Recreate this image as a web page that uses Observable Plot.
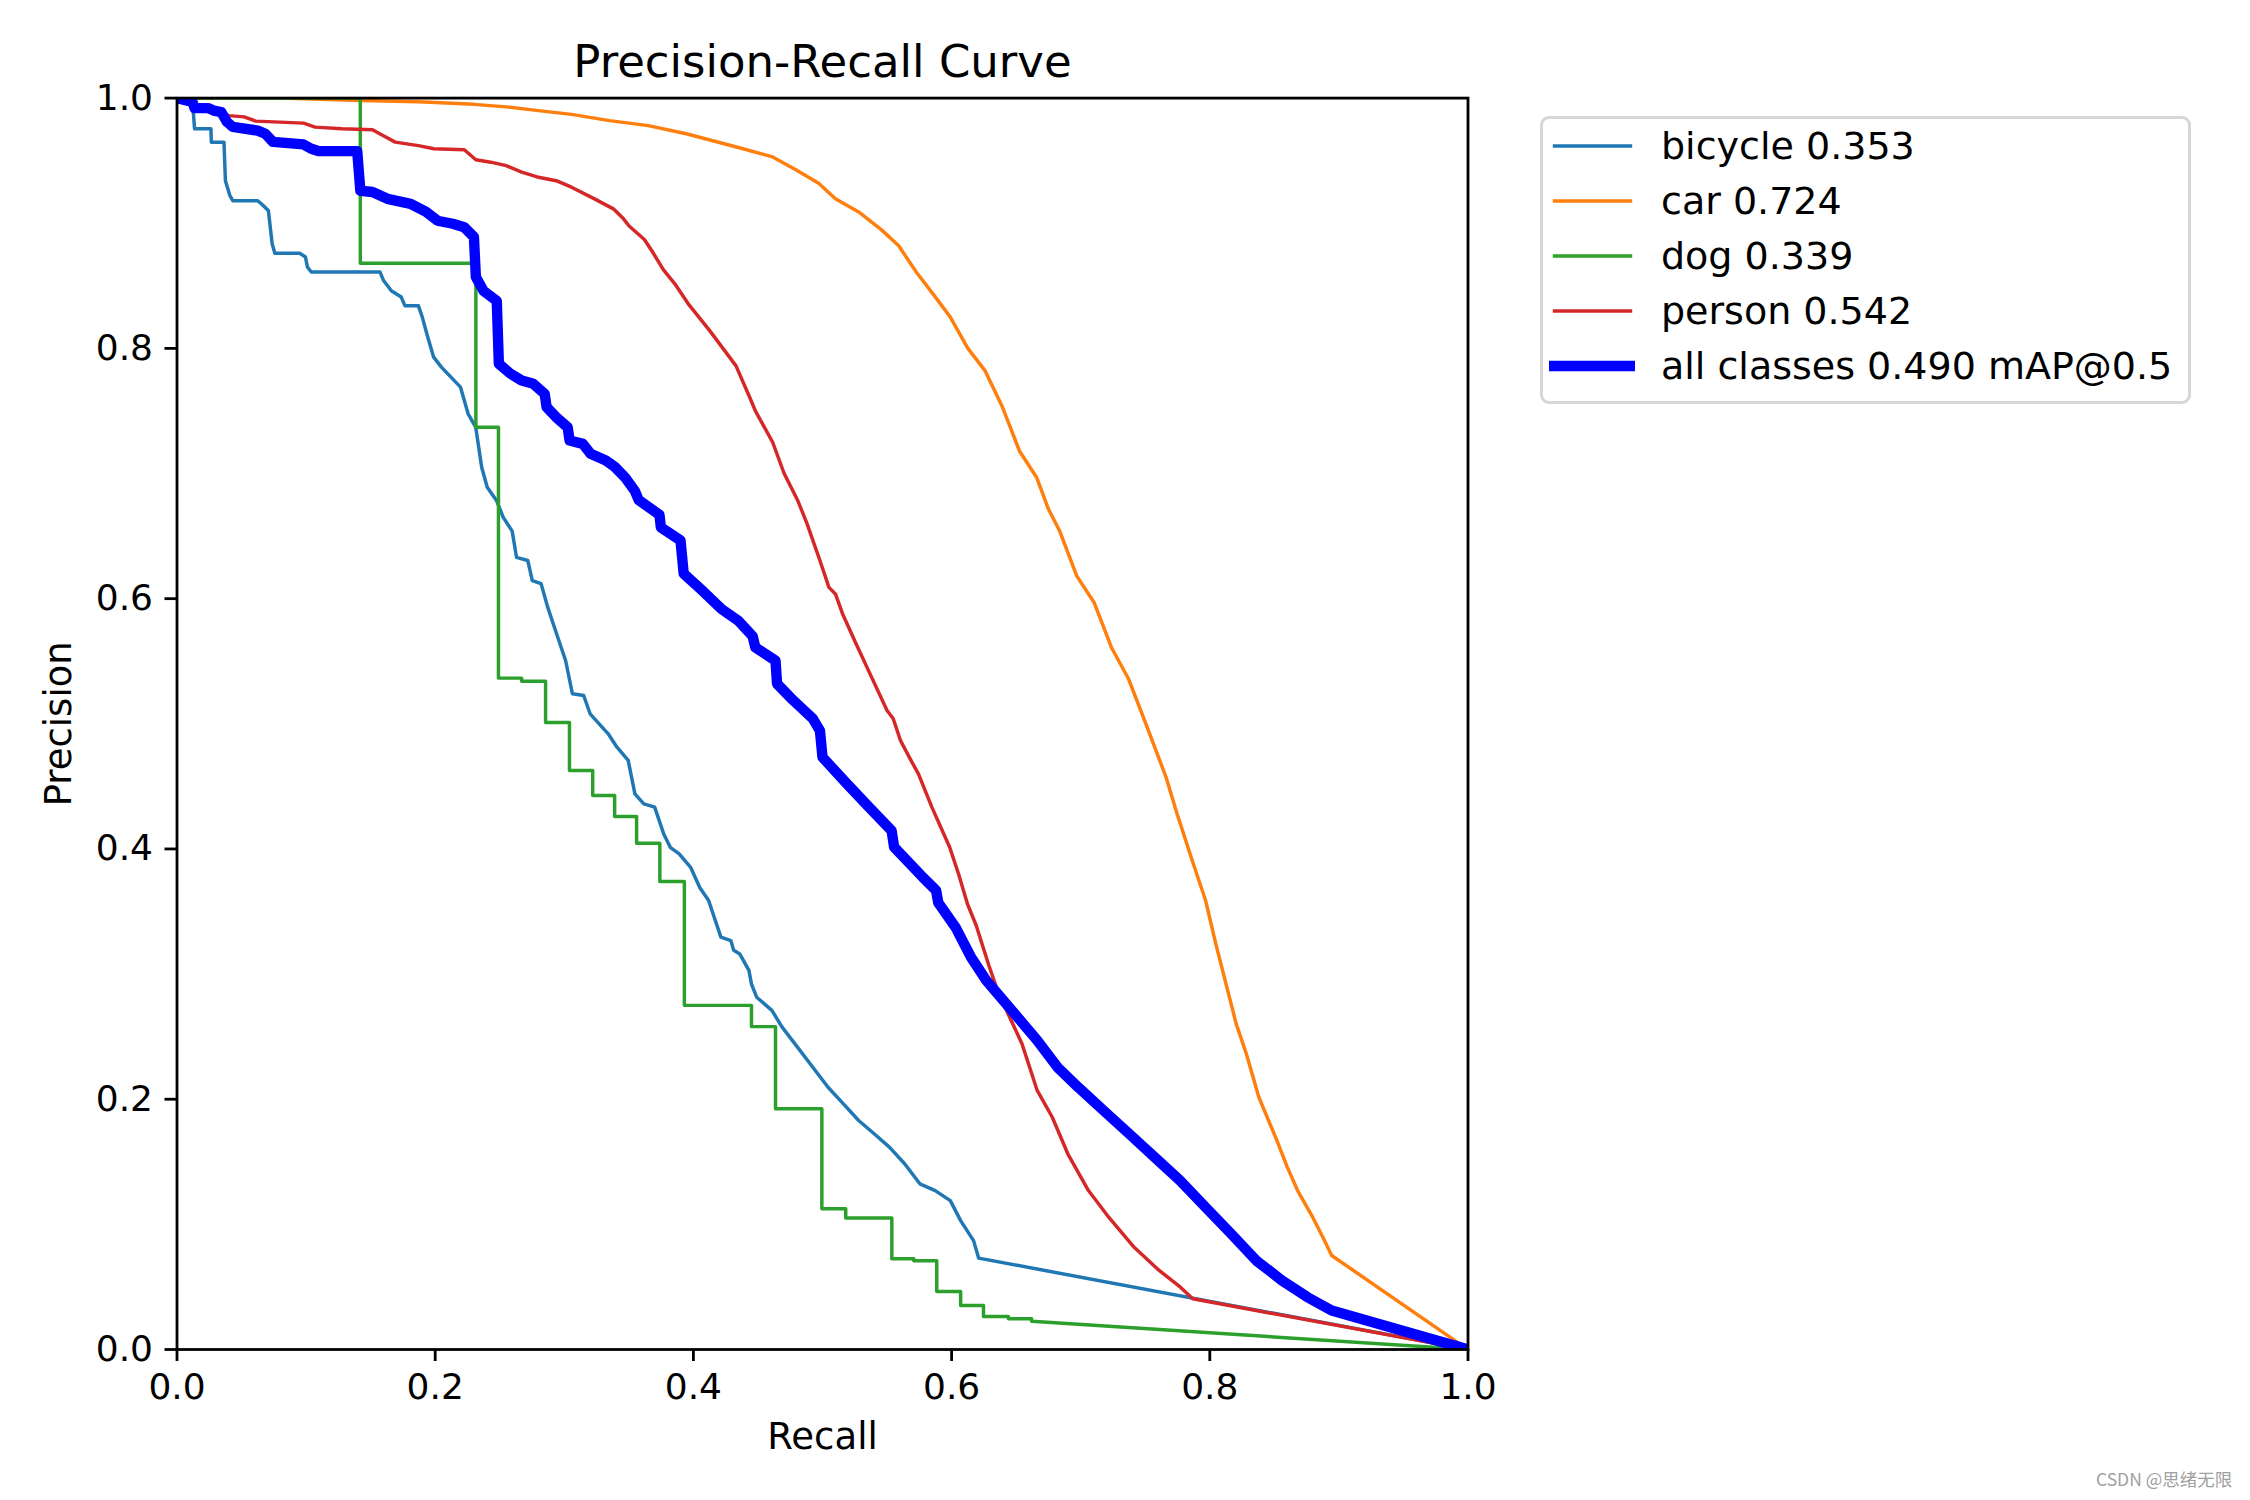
<!DOCTYPE html>
<html>
<head>
<meta charset="utf-8">
<script src="https://cdn.jsdelivr.net/npm/d3@7"></script>
<script src="https://cdn.jsdelivr.net/npm/@observablehq/plot@0.6"></script>
<style>
  html, body { margin: 0; padding: 0; background: #ffffff; }
  #wrap { position: relative; width: 2250px; height: 1500px; font-family: "DejaVu Sans", sans-serif; color: #000; }
  #legend { position: absolute; left: 1540px; top: 116px; width: 651px; height: 288px; box-sizing: border-box;
            border: 3px solid #d6d6d6; border-radius: 9px; background: #fff; }
  .lrow { position: absolute; left: 0; height: 50px; width: 100%; }
  .lrow svg { position: absolute; left: 6px; top: 0; }
  .lrow span { position: absolute; left: 118px; top: 0; line-height: 50px; font-size: 38px; white-space: nowrap; }
  #wm { position: absolute; left: 2096px; top: 1466px; font-size: 17.5px; color: #a0a0a0;
        font-family: "Noto Sans CJK SC", "DejaVu Sans", sans-serif; white-space: nowrap; }
</style>
</head>
<body>
<div id="wrap">
  <div id="chart"></div>
  <div id="legend"></div>
  <div id="wm">CSDN @思绪无限</div>
</div>
<script>
// ---------------- data ----------------
const classNames = ["bicycle", "car", "dog", "person"];
const apValues = [0.353, 0.724, 0.339, 0.542];
const mAP50 = 0.490;
const xTicks = [0, 0.2, 0.4, 0.6, 0.8, 1.0];
const yTicks = [0, 0.2, 0.4, 0.6, 0.8, 1.0];
const tickLabels = ["0.0", "0.2", "0.4", "0.6", "0.8", "1.0"];
const titleText = "Precision-Recall Curve";
const xLabel = "Recall";
const yLabel = "Precision";

// [recall, precision]
const bicycle = [[0,1],[0.012,0.998],[0.0136,0.9755],[0.0263,0.9755],[0.0266,0.9648],[0.0364,0.9648],[0.0375,0.934],[0.041,0.922],[0.0432,0.918],[0.0625,0.918],[0.067,0.914],[0.0708,0.910],[0.0737,0.8836],[0.0758,0.876],[0.095,0.876],[0.0995,0.873],[0.101,0.865],[0.104,0.861],[0.1573,0.861],[0.160,0.8542],[0.166,0.846],[0.1737,0.841],[0.1766,0.834],[0.187,0.834],[0.19,0.825],[0.1935,0.8117],[0.1988,0.793],[0.2048,0.785],[0.2122,0.777],[0.2196,0.769],[0.2255,0.7477],[0.2314,0.737],[0.236,0.705],[0.2403,0.689],[0.2477,0.678],[0.2527,0.665],[0.2596,0.654],[0.263,0.633],[0.2717,0.6305],[0.2752,0.6145],[0.282,0.612],[0.2872,0.593],[0.2924,0.577],[0.2976,0.561],[0.301,0.5506],[0.3063,0.524],[0.315,0.5226],[0.320,0.508],[0.327,0.500],[0.334,0.492],[0.3408,0.4813],[0.3495,0.4707],[0.3547,0.444],[0.3616,0.436],[0.370,0.4334],[0.377,0.412],[0.3823,0.401],[0.389,0.396],[0.398,0.385],[0.405,0.369],[0.4117,0.359],[0.4213,0.3295],[0.429,0.3268],[0.4312,0.319],[0.436,0.316],[0.443,0.303],[0.445,0.292],[0.449,0.2815],[0.4608,0.271],[0.4687,0.2576],[0.4806,0.2416],[0.4944,0.223],[0.5043,0.2096],[0.5162,0.1963],[0.528,0.183],[0.540,0.1724],[0.5518,0.1617],[0.5636,0.1484],[0.5754,0.1324],[0.5873,0.127],[0.599,0.119],[0.607,0.103],[0.617,0.087],[0.621,0.073],[1,0]];

const car = [[0,1],[0.08,1],[0.142,0.998],[0.187,0.997],[0.23,0.995],[0.255,0.993],[0.28,0.99],[0.3056,0.987],[0.335,0.982],[0.365,0.978],[0.3945,0.9715],[0.4348,0.9605],[0.4614,0.953],[0.479,0.943],[0.497,0.932],[0.510,0.9195],[0.528,0.909],[0.546,0.8945],[0.559,0.882],[0.5726,0.861],[0.586,0.843],[0.599,0.825],[0.6126,0.800],[0.626,0.782],[0.639,0.754],[0.6526,0.718],[0.666,0.6966],[0.675,0.6716],[0.6838,0.6538],[0.697,0.618],[0.7105,0.5967],[0.7238,0.561],[0.737,0.536],[0.7505,0.500],[0.766,0.4576],[0.7747,0.428],[0.786,0.392],[0.7967,0.359],[0.8047,0.324],[0.8126,0.292],[0.8205,0.260],[0.8284,0.236],[0.838,0.2016],[0.852,0.167],[0.860,0.1457],[0.868,0.127],[0.8797,0.1057],[0.8876,0.0897],[0.8944,0.0751],[1,0]];

const dog = [[0,1],[0.142,1],[0.142,0.868],[0.2315,0.868],[0.2315,0.737],[0.249,0.737],[0.249,0.5365],[0.267,0.5365],[0.267,0.534],[0.2855,0.534],[0.2855,0.501],[0.304,0.501],[0.304,0.4627],[0.322,0.4627],[0.322,0.4427],[0.339,0.4427],[0.339,0.426],[0.356,0.426],[0.356,0.4046],[0.374,0.4046],[0.374,0.374],[0.393,0.374],[0.393,0.275],[0.445,0.275],[0.445,0.258],[0.4636,0.258],[0.4636,0.1923],[0.4995,0.1923],[0.4995,0.1124],[0.518,0.1124],[0.518,0.105],[0.5537,0.105],[0.5537,0.0725],[0.5707,0.0725],[0.5707,0.071],[0.5885,0.071],[0.5885,0.0463],[0.607,0.0463],[0.607,0.0352],[0.6247,0.0352],[0.6247,0.0264],[0.644,0.0264],[0.644,0.0245],[0.662,0.0245],[0.662,0.0226],[1,0]];

const person = [[0,1],[0.02,0.99],[0.0403,0.986],[0.052,0.985],[0.061,0.9816],[0.098,0.980],[0.107,0.9768],[0.1277,0.9755],[0.1514,0.9747],[0.157,0.9715],[0.169,0.9648],[0.187,0.962],[0.199,0.9595],[0.2225,0.9587],[0.2315,0.9507],[0.243,0.9488],[0.255,0.946],[0.267,0.9408],[0.279,0.937],[0.2937,0.934],[0.3056,0.9288],[0.3234,0.9195],[0.338,0.9115],[0.3459,0.9035],[0.350,0.898],[0.362,0.887],[0.3678,0.878],[0.3767,0.863],[0.3856,0.8516],[0.396,0.8356],[0.412,0.815],[0.42,0.804],[0.433,0.786],[0.444,0.760],[0.448,0.750],[0.4614,0.725],[0.4703,0.700],[0.481,0.678],[0.488,0.660],[0.498,0.6305],[0.505,0.609],[0.510,0.6038],[0.5155,0.588],[0.526,0.564],[0.537,0.5395],[0.550,0.5106],[0.5548,0.504],[0.5604,0.4867],[0.568,0.4718],[0.5743,0.460],[0.5847,0.4334],[0.5985,0.4014],[0.6054,0.380],[0.6123,0.356],[0.619,0.339],[0.629,0.3065],[0.6365,0.284],[0.6425,0.271],[0.6545,0.2443],[0.6663,0.207],[0.678,0.1856],[0.690,0.1564],[0.706,0.127],[0.7217,0.1057],[0.7414,0.0817],[0.761,0.063],[0.777,0.050],[0.7868,0.0405],[1,0]];

const allClasses = [[0,1],[0.012,0.997],[0.0136,0.992],[0.024,0.992],[0.0284,0.990],[0.0343,0.9888],[0.0387,0.981],[0.0432,0.977],[0.0625,0.974],[0.0684,0.9715],[0.0743,0.965],[0.098,0.963],[0.104,0.9595],[0.11,0.9576],[0.1396,0.9576],[0.142,0.926],[0.1514,0.925],[0.163,0.9195],[0.181,0.9155],[0.193,0.909],[0.2018,0.902],[0.2136,0.8996],[0.2225,0.8968],[0.230,0.889],[0.2315,0.857],[0.2374,0.846],[0.2477,0.838],[0.2493,0.7877],[0.258,0.780],[0.267,0.7743],[0.276,0.7717],[0.2848,0.7637],[0.2863,0.753],[0.2937,0.745],[0.3026,0.737],[0.3041,0.7264],[0.3144,0.7237],[0.3204,0.7158],[0.3322,0.7104],[0.339,0.7054],[0.347,0.697],[0.3547,0.686],[0.3576,0.6788],[0.3737,0.667],[0.3748,0.657],[0.390,0.6466],[0.3925,0.620],[0.408,0.6054],[0.422,0.5915],[0.4348,0.5824],[0.4459,0.570],[0.448,0.561],[0.4636,0.5505],[0.4648,0.532],[0.4775,0.5186],[0.4926,0.504],[0.498,0.4946],[0.5,0.4733],[0.519,0.452],[0.536,0.4334],[0.5535,0.4147],[0.5555,0.4014],[0.5777,0.3774],[0.588,0.3668],[0.5897,0.357],[0.603,0.3375],[0.615,0.3135],[0.6268,0.2949],[0.6466,0.271],[0.6663,0.247],[0.682,0.2256],[0.698,0.2096],[0.7177,0.191],[0.7375,0.1724],[0.7572,0.1537],[0.777,0.135],[0.7967,0.1137],[0.8165,0.0925],[0.836,0.0711],[0.856,0.0551],[0.8757,0.0418],[0.8944,0.0312],[1,0]];

// ---------------- styles ----------------
const classColors = ["#1f77b4", "#ff7f0e", "#2ca02c", "#d62728"];
const allColor = "#0000ff";
const thinW = 3.47, thickW = 10.4;

// ---------------- build table ----------------
const classSeries = [bicycle, car, dog, person];
const rows = [];
classSeries.forEach((s, i) => s.forEach(([r, p]) => rows.push({series: classNames[i], recall: r, precision: p})));
const allRows = allClasses.map(([r, p]) => ({series: "all classes", recall: r, precision: p}));
const fmtTick = d => tickLabels[xTicks.findIndex(t => Math.abs(t - d) < 1e-9)];

const W = 2250, H = 1500;
const mL = 176.5, mR = 2250 - 1467.5, mT = 97.6, mB = 1500 - 1349;

const chart = Plot.plot({
  width: W,
  height: H,
  marginLeft: mL,
  marginRight: mR,
  marginTop: mT,
  marginBottom: mB,
  style: {fontFamily: "DejaVu Sans, sans-serif", fontSize: "36px", color: "#000", background: "#fff", overflow: "visible"},
  x: {domain: [0, 1]},
  y: {domain: [0, 1]},
  color: {domain: classNames, range: classColors},
  marks: [
    Plot.line(rows, {x: "recall", y: "precision", z: "series", stroke: "series", strokeWidth: thinW,
      strokeLinejoin: "round", strokeLinecap: "butt", clip: true}),
    Plot.line(allRows, {x: "recall", y: "precision", stroke: allColor, strokeWidth: thickW,
      strokeLinejoin: "round", strokeLinecap: "butt", clip: true}),
    Plot.frame({stroke: "#000", strokeWidth: 2.8}),
    Plot.axisX({ticks: xTicks, tickFormat: fmtTick, tickSize: 12, tickPadding: 12, strokeWidth: 2.8,
      fontSize: 36, label: null}),
    Plot.axisY({ticks: yTicks, tickFormat: fmtTick, tickSize: 12, tickPadding: 12, strokeWidth: 2.8,
      fontSize: 36, label: null}),
    Plot.text([titleText], {text: d => d, frameAnchor: "top", dy: -20.8, lineAnchor: "bottom", textAnchor: "middle", fontSize: 45}),
    Plot.text([xLabel], {text: d => d, frameAnchor: "bottom", dy: 88, lineAnchor: "middle", textAnchor: "middle", fontSize: 37}),
    Plot.text([yLabel], {text: d => d, frameAnchor: "left", dx: -118, rotate: -90, lineAnchor: "middle", textAnchor: "middle", fontSize: 37})
  ]
});
document.getElementById("chart").appendChild(chart);

// ---------------- legend (HTML) ----------------
const legend = document.getElementById("legend");
const legendItems = classNames.map((n, i) => ({label: `${n} ${apValues[i].toFixed(3)}`, color: classColors[i], w: thinW}))
  .concat([{label: `all classes ${mAP50.toFixed(3)} mAP@0.5`, color: allColor, w: thickW}]);
const rowCenters = [29.7, 85, 140, 195, 249.7];
legendItems.forEach((it, i) => {
  const row = document.createElement("div");
  row.className = "lrow";
  row.style.top = (rowCenters[i] - 3 - 25) + "px";
  const svgNS = "http://www.w3.org/2000/svg";
  const svg = document.createElementNS(svgNS, "svg");
  svg.setAttribute("width", "92");
  svg.setAttribute("height", "50");
  const ln = document.createElementNS(svgNS, "line");
  ln.setAttribute("x1", it.w > 5 ? 0 : 3.8);
  ln.setAttribute("x2", it.w > 5 ? 86 : 83.2);
  ln.setAttribute("y1", 25);
  ln.setAttribute("y2", 25);
  ln.setAttribute("stroke", it.color);
  ln.setAttribute("stroke-width", it.w);
  svg.appendChild(ln);
  const sp = document.createElement("span");
  sp.textContent = it.label;
  row.appendChild(svg);
  row.appendChild(sp);
  legend.appendChild(row);
});
</script>
</body>
</html>
